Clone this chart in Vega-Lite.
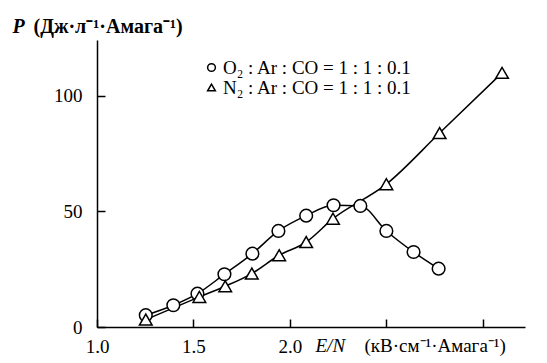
{
  "$schema": "https://vega.github.io/schema/vega-lite/v6.json",
  "width": 428,
  "height": 287,
  "autosize": {"type": "none"},
  "padding": {"left": 97, "top": 40, "right": 22, "bottom": 36},
  "background": "white",
  "config": {
    "view": {"stroke": null},
    "font": "Liberation Serif",
    "axis": {
      "labelFont": "Liberation Serif", "labelFontSize": 19, "labelColor": "black",
      "titleFont": "Liberation Serif", "titleFontSize": 19, "titleColor": "black",
      "domainColor": "black", "tickColor": "black", "domainWidth": 1.5, "tickWidth": 1.5, "grid": false
    }
  },
  "data": {"values": [
    {"series": "O₂ : Ar : CO = 1 : 1 : 0.1", "x": 1.253, "y": 5.1},
    {"series": "O₂ : Ar : CO = 1 : 1 : 0.1", "x": 1.396, "y": 9.4},
    {"series": "O₂ : Ar : CO = 1 : 1 : 0.1", "x": 1.521, "y": 14.4},
    {"series": "O₂ : Ar : CO = 1 : 1 : 0.1", "x": 1.661, "y": 22.8},
    {"series": "O₂ : Ar : CO = 1 : 1 : 0.1", "x": 1.806, "y": 31.7},
    {"series": "O₂ : Ar : CO = 1 : 1 : 0.1", "x": 1.941, "y": 41.5},
    {"series": "O₂ : Ar : CO = 1 : 1 : 0.1", "x": 2.085, "y": 48.1},
    {"series": "O₂ : Ar : CO = 1 : 1 : 0.1", "x": 2.227, "y": 52.6},
    {"series": "O₂ : Ar : CO = 1 : 1 : 0.1", "x": 2.366, "y": 52.3},
    {"series": "O₂ : Ar : CO = 1 : 1 : 0.1", "x": 2.501, "y": 41.5},
    {"series": "O₂ : Ar : CO = 1 : 1 : 0.1", "x": 2.642, "y": 32.4},
    {"series": "O₂ : Ar : CO = 1 : 1 : 0.1", "x": 2.772, "y": 25.2},
    {"series": "N₂ : Ar : CO = 1 : 1 : 0.1", "x": 1.253, "y": 3.2},
    {"series": "N₂ : Ar : CO = 1 : 1 : 0.1", "x": 1.531, "y": 13.0},
    {"series": "N₂ : Ar : CO = 1 : 1 : 0.1", "x": 1.665, "y": 17.6},
    {"series": "N₂ : Ar : CO = 1 : 1 : 0.1", "x": 1.803, "y": 23.1},
    {"series": "N₂ : Ar : CO = 1 : 1 : 0.1", "x": 1.945, "y": 31.0},
    {"series": "N₂ : Ar : CO = 1 : 1 : 0.1", "x": 2.085, "y": 36.7},
    {"series": "N₂ : Ar : CO = 1 : 1 : 0.1", "x": 2.224, "y": 46.8},
    {"series": "N₂ : Ar : CO = 1 : 1 : 0.1", "x": 2.501, "y": 61.7},
    {"series": "N₂ : Ar : CO = 1 : 1 : 0.1", "x": 2.777, "y": 83.8},
    {"series": "N₂ : Ar : CO = 1 : 1 : 0.1", "x": 3.101, "y": 109.8}
  ]},
  "layer": [
    {
      "mark": {"type": "line", "interpolate": "monotone", "color": "black", "strokeWidth": 1.5},
      "encoding": {
        "x": {"field": "x", "type": "quantitative", "scale": {"domain": [1, 3.22], "nice": false, "zero": false},
          "axis": {"orient": "bottom", "values": [1, 1.5, 2, 2.5, 3], "tickSize": -8, "labelPadding": 18,
            "labelFont": "Liberation Serif", "labelFontSize": 19, "titleFont": "Liberation Serif", "titleFontSize": 19,
            "labelExpr": "datum.value <= 2 ? format(datum.value, '.1f') : ''", "labelFlush": false, "labelOverlap": false,
            "title": "E/N", "titleFontStyle": "italic", "titleFontWeight": "normal",
            "titleX": 218, "titleY": 24, "titleAlign": "left", "titleBaseline": "alphabetic"}},
        "y": {"field": "y", "type": "quantitative", "scale": {"domain": [0, 124], "nice": false},
          "axis": {"orient": "left", "values": [0, 50, 100], "tickSize": -8, "labelPadding": 23, "labelOverlap": false,
            "labelFont": "Liberation Serif", "labelFontSize": 19, "titleFont": "Liberation Serif", "titleFontSize": 20,
            "encode": {"labels": {"update": {"dy": {"signal": "datum.value === 0 ? 6 : 0"}}}},
            "title": "P", "titleFontStyle": "italic", "titleFontWeight": "bold", "titleAngle": 0,
            "titleX": -85, "titleY": -8, "titleAlign": "left", "titleBaseline": "alphabetic"}},
        "detail": {"field": "series", "type": "nominal"}
      }
    },
    {
      "mark": {"type": "point", "filled": true, "fill": "white", "stroke": "black", "strokeWidth": 1.5, "opacity": 1, "size": 160},
      "encoding": {
        "x": {"field": "x", "type": "quantitative",
          "axis": {"orient": "bottom", "domain": false, "ticks": false, "labels": false,
            "titleFont": "Liberation Serif", "titleFontSize": 19,
            "title": "(кВ·см⁻¹·Амага⁻¹)", "titleFontWeight": "normal",
            "titleX": 267, "titleY": 24, "titleAlign": "left", "titleBaseline": "alphabetic"}},
        "y": {"field": "y", "type": "quantitative",
          "axis": {"orient": "left", "domain": false, "ticks": false, "labels": false,
            "titleFont": "Liberation Serif", "titleFontSize": 20,
            "title": "(Дж·л⁻¹·Амага⁻¹)", "titleFontWeight": "bold", "titleAngle": 0,
            "titleX": -64, "titleY": -8, "titleAlign": "left", "titleBaseline": "alphabetic"}},
        "shape": {"field": "series", "type": "nominal",
          "scale": {"domain": ["O₂ : Ar : CO = 1 : 1 : 0.1", "N₂ : Ar : CO = 1 : 1 : 0.1"], "range": ["circle", "triangle-up"]},
          "legend": {"orient": "none", "legendX": 105, "legendY": 18, "title": null,
            "labelFont": "Liberation Serif", "labelFontSize": 19, "labelColor": "black", "labelLimit": 0,
            "symbolSize": 60, "labelOffset": 2, "rowPadding": 0,
            "encode": {"symbols": {"update": {"fill": {"value": "white"}, "stroke": {"value": "black"}, "strokeWidth": {"value": 1.3}, "opacity": {"value": 1}, "fillOpacity": {"value": 1}, "strokeOpacity": {"value": 1}}}}}}
      }
    }
  ],
  "resolve": {"axis": {"x": "independent", "y": "independent"}}
}
